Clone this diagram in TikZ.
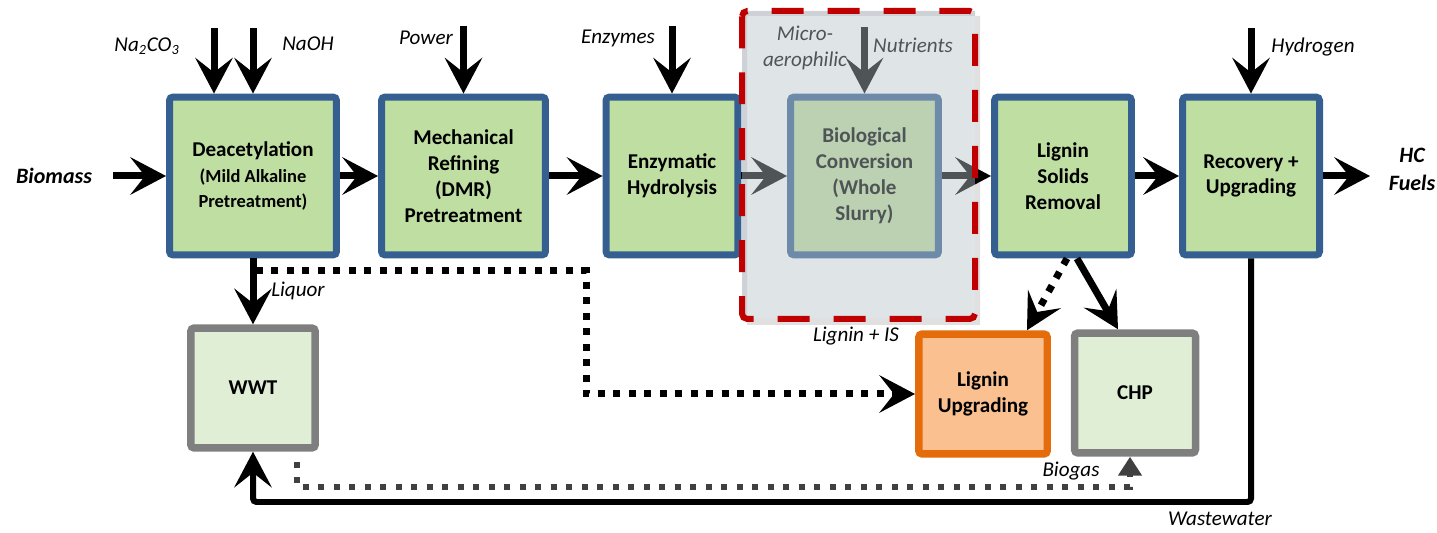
\documentclass[tikz,border=0pt]{standalone}
\usepackage{fontspec}
\setmainfont{Carlito}
\usepackage[]{xcolor}
\usepackage{tikz}
\usetikzlibrary{arrows.meta}

\definecolor{procblue}{RGB}{54,95,145}
\definecolor{procgreen}{RGB}{191,222,162}
\definecolor{utilgray}{RGB}{127,127,127}
\definecolor{utilgreen}{RGB}{223,238,213}
\definecolor{ligorange}{RGB}{228,108,10}
\definecolor{ligfill}{RGB}{250,192,144}
\definecolor{zonered}{RGB}{192,0,0}
\definecolor{zonegray}{RGB}{182,193,200}
\definecolor{gasgray}{RGB}{64,64,64}

\newcommand{\boxfont}{\fontsize{12}{14.7}\selectfont\bfseries}
\newcommand{\subfont}{\fontsize{10.5}{13}\selectfont\bfseries}

\tikzset{
  proc/.style={draw=procblue, fill=procgreen, line width=0.14cm, rounded corners=2pt,
    align=center, minimum height=3.16cm, font=\boxfont},
  util/.style={draw=utilgray, fill=utilgreen, line width=0.15cm, rounded corners=2pt,
    align=center, minimum height=2.4cm, font=\boxfont},
  ligbox/.style={util, draw=ligorange, fill=ligfill},
  lbl/.style={font=\fontsize{12}{15}\selectfont\itshape, inner sep=0pt, align=center},
  strong/.style={lbl, font=\fontsize{12.5}{16}\selectfont\bfseries\itshape},
  flow/.style={line width=0.14cm,
    -{Stealth[length=0.72cm, width=0.76cm, inset=0.3cm, line width=0pt]}},
  dotflow/.style={flow, dash pattern=on 0.14cm off 0.17cm},
  retflow/.style={flow, line width=0.12cm, rounded corners=2pt},
  gasflow/.style={gasgray, line width=0.11cm, dash pattern=on 0.12cm off 0.19cm,
    -{Triangle[length=0.38cm, width=0.46cm]}}
}

\begin{document}
\begin{tikzpicture}[x=0.02cm,y=-0.02cm]
        \useasboundingbox (0,0) rectangle (1437,533);
        \node[proc, minimum width=3.34cm] (deac)   at ( 253,176) {Deacetylation\\{\subfont (Mild Alkaline}\\{\subfont Pretreatment)}};
        \node[proc, minimum width=3.28cm] (mech)   at ( 463.5,176) {Mechanical\\Refining\\(DMR)\\Pretreatment};
        \node[proc, minimum width=2.64cm] (enzy)   at ( 672,176) {Enzymatic\\Hydrolysis};
        \node[proc, minimum width=2.96cm] (bio)    at ( 864.5,176) {Biological\\Conversion\\(Whole\\Slurry)};
        \node[proc, minimum width=2.74cm] (solids) at (1063,176) {Lignin\\Solids\\Removal};
        \node[proc, minimum width=2.74cm] (recov)  at (1251,176) {Recovery +\\Upgrading};
        \node[util, minimum width=2.49cm]   (wwt) at ( 253,388) {WWT};
        \node[ligbox, minimum width=2.57cm] (lup) at ( 983,394) {Lignin\\Upgrading};
        \node[util, minimum width=2.42cm]   (chp) at (1135,393) {CHP};

        \node[strong] (biomass) at (  54,176) {Biomass};
        \node[strong] (fuels)   at (1412,169) {HC\\Fuels};
        \node[lbl] (na2co3)    at ( 147, 46) {Na\textsubscript{2}CO\textsubscript{3}};
        \node[lbl] (naoh)      at ( 308, 44) {NaOH};
        \node[lbl] (power)     at ( 426, 38) {Power};
        \node[lbl] (enzymes)   at ( 618, 38) {Enzymes};
        \node[lbl] (microaer)  at ( 805, 48) {Micro-\\aerophilic};
        \node[lbl] (nutrients) at ( 913, 45) {Nutrients};
        \node[lbl] (hydrogen)  at (1313, 47) {Hydrogen};
        \node[lbl] (liquor)    at ( 298,291) {Liquor};
        \node[lbl] (ligis)     at ( 856,336) {Lignin + IS};
        \node[lbl] (biogas)    at (1071,471) {Biogas};
        \node[lbl] (wastewater) at (1220,519) {Wastewater};

        \coordinate (bmin)     at ( 113,176);
        \coordinate (fuelsout) at (1370,176);
        \coordinate (na2in)    at ( 214, 28);
        \coordinate (naohin)   at (deac.north |- 0,28);
        \coordinate (powerin)  at (mech.north |- 0,26);
        \coordinate (enzin)    at (enzy.north |- 0,26);
        \coordinate (nutin)    at (bio.north |- 0,27);
        \coordinate (h2in)     at (recov.north |- 0,28);
        \coordinate (liqsplit) at ( 256,271);
        \coordinate (liqturn)  at ( 586,271);
        \coordinate (wwbend)   at (recov.south |- 0,502);
        \coordinate (gasstart) at ( 297,462);
        \coordinate (gasbend)  at (1130,487);

        \draw[flow] (bmin) -- (deac);
        \draw[flow] (deac) -- (mech);
        \draw[flow] (mech) -- (enzy);
        \draw[flow] (enzy) -- (bio);
        \draw[flow] (bio) -- (solids);
        \draw[flow] (solids) -- (recov);
        \draw[flow] (recov) -- (fuelsout);
        \draw[flow] (na2in) -- (na2in |- deac.north);
        \draw[flow] (naohin) -- (deac.north);
        \draw[flow] (powerin) -- (mech.north);
        \draw[flow] (enzin) -- (enzy.north);
        \draw[flow] (nutin) -- (bio.north);
        \draw[flow] (h2in) -- (recov.north);
        \draw[flow] (deac.south) -- (wwt.north);
        \draw[dotflow] (liqsplit) -- (liqturn) |- (lup.west);
        \draw[dotflow] ([xshift=0.08cm]solids.south) -- ([xshift=0.88cm]lup.north);
        \draw[flow] ([xshift=0.28cm]solids.south) -- ([xshift=-0.34cm]chp.north);
        \draw[retflow] (recov.south) -- (wwbend) -| (wwt.south);
        \draw[gasflow] (gasstart) |- (gasbend) -- (gasbend |- chp.south);

        \fill[black, opacity=0.12, even odd rule] (747,16) rectangle (980,325) (742,11) rectangle (975,319);
        \fill[zonegray, fill opacity=0.44] (742,11) rectangle (975,319);
        \draw[zonered, line width=0.12cm, dash pattern=on 0.64cm off 0.48cm, rounded corners=3pt] (742,11) rectangle (975,319);
\end{tikzpicture}
\end{document}
